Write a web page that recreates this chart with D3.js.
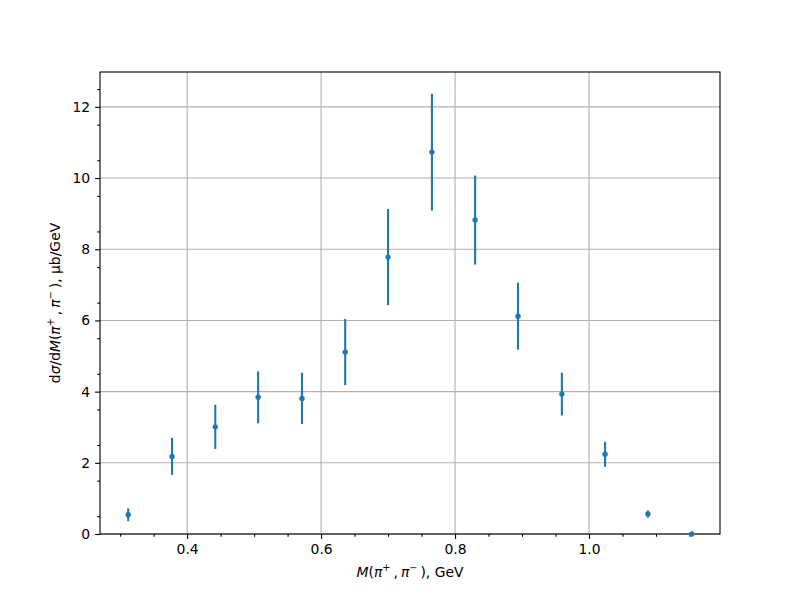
<!DOCTYPE html>
<html>
<head>
<meta charset="utf-8">
<script src="https://cdn.jsdelivr.net/npm/d3@7"></script>
<style>
  body { margin: 0; background: #fff; }
  svg text { font-family: "DejaVu Sans", sans-serif; fill: #000; }
</style>
</head>
<body>
<svg width="800" height="600"></svg>
<script>
// invariant mass bins (GeV), cross-section (μb/GeV) and its error
var mass = [0.312, 0.3775, 0.442, 0.506, 0.5715, 0.636, 0.700, 0.7655, 0.830, 0.894, 0.9595, 1.024, 1.088, 1.1535];
var xsec = [0.54, 2.18, 3.01, 3.84, 3.81, 5.11, 7.78, 10.73, 8.82, 6.12, 3.93, 2.24, 0.56, 0.0];
var xerr = [0.18, 0.52, 0.62, 0.73, 0.72, 0.93, 1.35, 1.64, 1.25, 0.94, 0.60, 0.35, 0.10, 0.02];
var xTicks = [0.4, 0.6, 0.8, 1.0];
var yTicks = [0, 2, 4, 6, 8, 10, 12];

var svg = d3.select('svg');
var pLeft = 100, pRight = 720, pTop = 72, pBottom = 534;

var x = d3.scaleLinear().domain([0.2699, 1.1956]).range([pLeft, pRight]);
var y = d3.scaleLinear().domain([0, 12.98]).range([pBottom, pTop]);

var pts = mass.map(function (m, i) { return { m: m, v: xsec[i], e: xerr[i] }; });

// grid
svg.append('g').selectAll('line')
   .data(xTicks).enter().append('line')
   .attr('x1', function (d) { return x(d); }).attr('x2', function (d) { return x(d); })
   .attr('y1', pTop).attr('y2', pBottom)
   .attr('stroke', '#b0b0b0').attr('stroke-width', 1.1);
svg.append('g').selectAll('line')
   .data(yTicks).enter().append('line')
   .attr('x1', pLeft).attr('x2', pRight)
   .attr('y1', function (d) { return y(d); }).attr('y2', function (d) { return y(d); })
   .attr('stroke', '#b0b0b0').attr('stroke-width', 1.1);

// axes
var xAxis = svg.append('g').attr('transform', 'translate(0,' + pBottom + ')')
   .call(d3.axisBottom(x).tickValues(xTicks).tickSize(4.9).tickPadding(4.9)
      .tickFormat(d3.format('.1f')));
var xMinor = svg.append('g').attr('transform', 'translate(0,' + pBottom + ')')
   .call(d3.axisBottom(x).tickValues(d3.range(0.3, 1.19, 0.05).filter(function (v) {
      return Math.abs(v * 5 - Math.round(v * 5)) > 1e-6;
   })).tickSize(2.8).tickFormat(''));
var yAxis = svg.append('g').attr('transform', 'translate(' + pLeft + ',0)')
   .call(d3.axisLeft(y).tickValues(yTicks).tickSize(4.9).tickPadding(4.9));
var yMinor = svg.append('g').attr('transform', 'translate(' + pLeft + ',0)')
   .call(d3.axisLeft(y).tickValues(d3.range(0.5, 13, 1)).tickSize(2.8).tickFormat(''));

[xAxis, xMinor, yAxis, yMinor].forEach(function (g) {
   g.select('.domain').remove();
   g.selectAll('line').attr('stroke', '#000').attr('stroke-width', 1.1);
   g.selectAll('text').attr('font-size', 13.9).attr('font-family', 'DejaVu Sans');
});

// frame
svg.append('rect')
   .attr('x', pLeft).attr('y', pTop)
   .attr('width', pRight - pLeft).attr('height', pBottom - pTop)
   .attr('fill', 'none').attr('stroke', '#000').attr('stroke-width', 1.1);

// error bars and markers
var data = svg.append('g');
data.selectAll('line.err')
   .data(pts).enter().append('line')
   .attr('class', 'err')
   .attr('x1', function (d) { return x(d.m); }).attr('x2', function (d) { return x(d.m); })
   .attr('y1', function (d) { return y(d.v - d.e); })
   .attr('y2', function (d) { return y(d.v + d.e); })
   .attr('stroke', '#1f77b4').attr('stroke-width', 2.1);
data.selectAll('circle')
   .data(pts).enter().append('circle')
   .attr('cx', function (d) { return x(d.m); })
   .attr('cy', function (d) { return y(d.v); })
   .attr('r', 2.7)
   .attr('fill', '#1f77b4');

// mathtext-ish label: "(π⁺, π⁻)" with raised signs and a little space after them
function pions(t) {
   t.append('tspan').text('(');
   t.append('tspan').attr('font-style', 'italic').text('π');
   t.append('tspan').attr('font-size', 9.7).attr('dy', -6).text('+');
   t.append('tspan').attr('dy', 6).attr('dx', 3).text(',');
   t.append('tspan').attr('dx', 3).attr('font-style', 'italic').text('π');
   t.append('tspan').attr('font-size', 9.7).attr('dy', -6).text('−');
   t.append('tspan').attr('dy', 6).attr('dx', 3).text(')');
}

var xl = svg.append('text')
   .attr('x', (pLeft + pRight) / 2).attr('y', 577)
   .attr('text-anchor', 'middle').attr('font-size', 13.9);
xl.append('tspan').attr('font-style', 'italic').text('M');
pions(xl);
xl.append('tspan').text(', GeV');

var yl = svg.append('text')
   .attr('transform', 'translate(60,' + ((pTop + pBottom) / 2) + ') rotate(-90)')
   .attr('text-anchor', 'middle').attr('font-size', 13.9);
yl.append('tspan').text('d');
yl.append('tspan').attr('font-style', 'italic').text('σ');
yl.append('tspan').text('/d');
yl.append('tspan').attr('font-style', 'italic').text('M');
pions(yl);
yl.append('tspan').text(', μb/GeV');
</script>
</body>
</html>
